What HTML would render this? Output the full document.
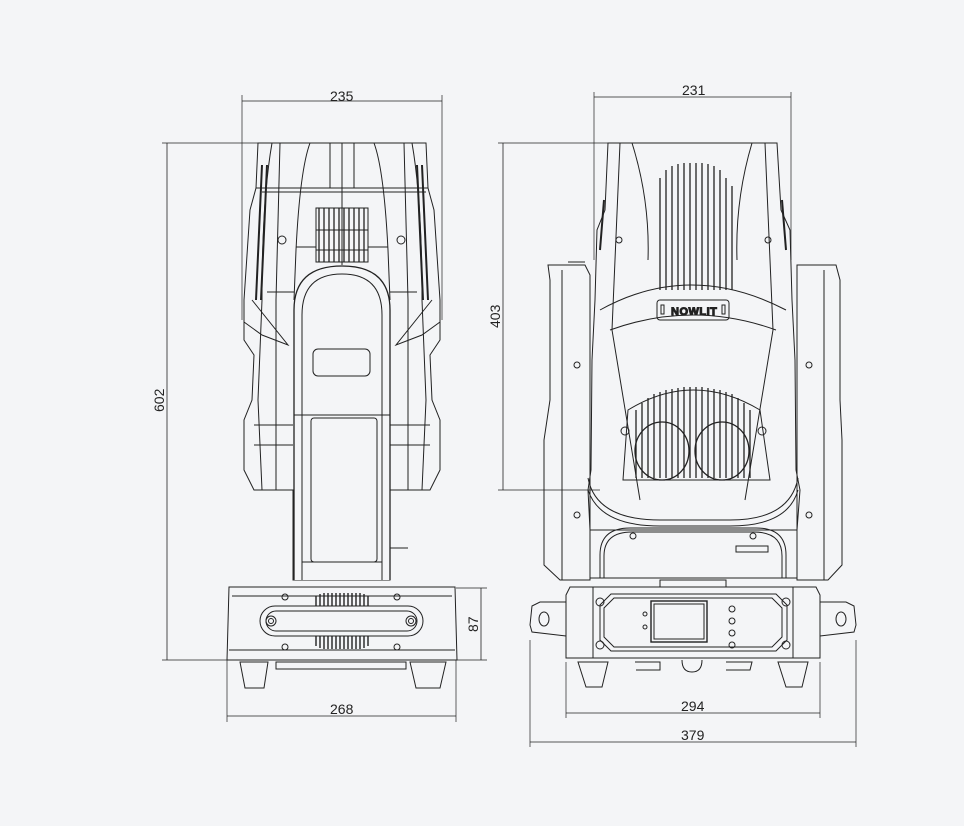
<!DOCTYPE html>
<html><head><meta charset="utf-8"><style>
html,body{margin:0;padding:0;background:#f4f5f7;}
svg{display:block}
text{font-family:"Liberation Sans",sans-serif;font-size:14px;fill:#222}
</style></head><body>
<svg width="964" height="826" viewBox="0 0 964 826" xmlns="http://www.w3.org/2000/svg">
<rect width="964" height="826" fill="#f4f5f7"/>
<g fill="none" stroke="#222" stroke-width="1">
<!-- ===== dimensions left ===== -->
<line x1="242" y1="101" x2="442" y2="101" stroke-width="0.8"/>
<line x1="242" y1="95" x2="242" y2="320" stroke-width="0.7"/>
<line x1="442" y1="95" x2="442" y2="320" stroke-width="0.7"/>
<line x1="167" y1="143" x2="167" y2="660" stroke-width="0.8"/>
<line x1="162" y1="143" x2="330" y2="143" stroke-width="0.7"/>
<line x1="162" y1="660" x2="232" y2="660" stroke-width="0.7"/>
<line x1="481" y1="588" x2="481" y2="660" stroke-width="0.8"/>
<line x1="456" y1="588" x2="487" y2="588" stroke-width="0.7"/>
<line x1="456" y1="660" x2="487" y2="660" stroke-width="0.7"/>
<line x1="227" y1="716" x2="456" y2="716" stroke-width="0.8"/>
<line x1="227" y1="660" x2="227" y2="722" stroke-width="0.7"/>
<line x1="456" y1="660" x2="456" y2="722" stroke-width="0.7"/>
<!-- ===== dimensions right ===== -->
<line x1="594" y1="97" x2="791" y2="97" stroke-width="0.8"/>
<line x1="594" y1="92" x2="594" y2="260" stroke-width="0.7"/>
<line x1="791" y1="92" x2="791" y2="260" stroke-width="0.7"/>
<line x1="503" y1="143" x2="503" y2="490" stroke-width="0.8"/>
<line x1="498" y1="143" x2="640" y2="143" stroke-width="0.7"/>
<line x1="498" y1="490" x2="600" y2="490" stroke-width="0.7"/>
<line x1="566" y1="713" x2="820" y2="713" stroke-width="0.8"/>
<line x1="566" y1="662" x2="566" y2="718" stroke-width="0.7"/>
<line x1="820" y1="662" x2="820" y2="718" stroke-width="0.7"/>
<line x1="530" y1="742" x2="856" y2="742" stroke-width="0.8"/>
<line x1="530" y1="640" x2="530" y2="747" stroke-width="0.7"/>
<line x1="856" y1="640" x2="856" y2="747" stroke-width="0.7"/>

<!-- ===== LEFT VIEW head ===== -->
<path d="M258 143 L426 143 L428 188 L434 210 L440 300 L440 340 L430 355 L432 400 L440 420 L440 470 L430 490 L390 490 L390 580 L293 580 L293 490 L254 490 L244 470 L244 420 L252 400 L254 355 L244 340 L244 300 L250 210 L256 188 Z"/>
<line x1="256" y1="188" x2="428" y2="188"/>
<line x1="262" y1="192" x2="426" y2="192"/>
<path d="M310 143 Q300 170 296 250 L294 300"/>
<path d="M374 143 Q384 170 388 250 L390 300"/>
<path d="M272 143 Q262 200 262 300 L258 400 L262 490"/>
<path d="M412 143 Q422 200 422 300 L426 400 L422 490"/>
<path d="M280 143 L276 300 L276 490"/>
<path d="M404 143 L408 300 L408 490"/>
<line x1="330" y1="143" x2="330" y2="188"/><line x1="354" y1="143" x2="354" y2="188"/><line x1="342" y1="143" x2="342" y2="265"/>
<path d="M262 165 L256 300 M267 165 L261 300 M422 165 L428 300 M417 165 L423 300" stroke-width="2"/>
<line x1="296" y1="247" x2="316" y2="247"/><line x1="368" y1="247" x2="388" y2="247"/>
<line x1="267" y1="292" x2="294" y2="292"/><line x1="390" y1="292" x2="417" y2="292"/>
<path d="M252 300 L288 345 L262 335 L244 322"/><path d="M432 300 L396 345 L422 335 L440 322"/>
<line x1="254" y1="425" x2="293" y2="425"/><line x1="390" y1="425" x2="430" y2="425"/>
<line x1="254" y1="445" x2="293" y2="445"/><line x1="390" y1="445" x2="430" y2="445"/>
<ellipse cx="282" cy="240" rx="4" ry="4"/><ellipse cx="401" cy="240" rx="4" ry="4"/>
<rect x="316" y="208" width="52" height="54"/>
<g stroke-width="1.3">
<line x1="319" y1="208" x2="319" y2="262"/><line x1="324" y1="208" x2="324" y2="262"/><line x1="329" y1="208" x2="329" y2="262"/><line x1="334" y1="208" x2="334" y2="262"/><line x1="339" y1="208" x2="339" y2="262"/><line x1="344" y1="208" x2="344" y2="262"/><line x1="349" y1="208" x2="349" y2="262"/><line x1="354" y1="208" x2="354" y2="262"/><line x1="359" y1="208" x2="359" y2="262"/><line x1="364" y1="208" x2="364" y2="262"/>
</g>
<line x1="316" y1="230" x2="368" y2="230"/><line x1="316" y1="250" x2="368" y2="250"/>
<!-- yoke arm -->
<path d="M294 580 L294 310 Q294 266 342 266 Q390 266 390 310 L390 580" fill="#f4f5f7" stroke-width="1.3"/>
<path d="M302 580 L302 315 Q302 274 342 274 Q382 274 382 315 L382 580"/>
<rect x="313" y="349" width="57" height="27" rx="5"/>
<line x1="294" y1="415" x2="390" y2="415"/>
<rect x="311" y="418" width="66" height="144" rx="3"/>
<line x1="302" y1="562" x2="382" y2="562"/>
<path d="M390 548 L408 548"/>
<!-- base left -->
<path d="M229 587 L455 587 L457 660 L227 660 Z" fill="#f4f5f7"/>
<line x1="232" y1="596" x2="452" y2="596"/><line x1="229" y1="650" x2="455" y2="650"/>
<rect x="260" y="606" width="163" height="30" rx="15"/>
<rect x="266" y="611" width="151" height="20" rx="10"/>
<circle cx="271" cy="621" r="5"/><circle cx="271" cy="621" r="2.5"/>
<circle cx="411" cy="621" r="5"/><circle cx="411" cy="621" r="2.5"/>
<circle cx="285" cy="597" r="3"/><circle cx="397" cy="597" r="3"/><circle cx="285" cy="647" r="3"/><circle cx="397" cy="647" r="3"/>
<g stroke-width="1.4">
<path d="M316 606 V596 M320 606 V594 M324 606 V593 M328 606 V593 M332 606 V593 M336 606 V593 M340 606 V593 M344 606 V593 M348 606 V593 M352 606 V593 M356 606 V593 M360 606 V593 M364 606 V594 M368 606 V596"/>
<path d="M316 636 V646 M320 636 V648 M324 636 V649 M328 636 V649 M332 636 V649 M336 636 V649 M340 636 V649 M344 636 V649 M348 636 V649 M352 636 V649 M356 636 V649 M360 636 V649 M364 636 V648 M368 636 V646"/>
</g>
<path d="M240 662 L268 662 L264 688 L245 688 Z"/><path d="M410 662 L446 662 L440 688 L416 688 Z"/>
<rect x="276" y="662" width="130" height="7"/>

<!-- ===== RIGHT VIEW arms ===== -->
<path d="M548 265 L585 265 L590 275 L590 580 L560 580 L544 565 L544 440 L550 400 L550 280 Z"/>
<path d="M797 265 L836 265 L840 280 L840 400 L842 440 L842 565 L828 580 L797 580 Z"/>
<line x1="562" y1="270" x2="562" y2="580"/><line x1="824" y1="270" x2="824" y2="580"/>
<circle cx="577" cy="365" r="3"/><circle cx="577" cy="515" r="3"/><circle cx="809" cy="365" r="3"/><circle cx="809" cy="515" r="3"/>
<line x1="568" y1="262" x2="585" y2="262"/>
<!-- head right -->
<path d="M608 143 L777 143 L781 210 L790 230 L792 300 L795 360 L796 470 L800 490 L797 530 L590 530 L588 490 L591 470 L592 360 L595 300 L597 230 L605 210 Z"/>
<path d="M632 143 Q650 200 648 260 M752 143 Q735 200 737 260"/>
<path d="M620 143 L612 330 Q625 410 640 500 M765 143 L773 330 Q760 410 745 500"/>
<path d="M600 310 Q690 260 786 310"/>
<path d="M610 330 Q693 300 776 330"/>
<rect x="657" y="300" width="72" height="20" rx="3"/>
<text x="671" y="315" style="font-size:11px;font-weight:bold;letter-spacing:0.5px">NOWLIT</text>
<rect x="661" y="305" width="3" height="9"/><rect x="722" y="305" width="3" height="9"/>
<g stroke-width="1.3">
<path d="M660 290 V178 M666 290 V170 M672 290 V166 M678 290 V164 M684 290 V163 M690 290 V163 M696 290 V163 M702 290 V163 M708 290 V164 M714 290 V166 M720 290 V170 M726 290 V178 M732 290 V186"/>
</g>
<circle cx="619" cy="240" r="3"/><circle cx="768" cy="240" r="3"/>
<path d="M604 200 L600 250 M782 200 L786 250" stroke-width="2"/>
<!-- lower fins + fans -->
<path d="M628 410 Q693 370 760 410 L770 480 L623 480 Z"/>
<g stroke-width="1.3">
<path d="M636 478 V410 M642 478 V403 M648 478 V398 M654 478 V394 M660 478 V392 M666 478 V390 M672 478 V389 M678 478 V388 M684 478 V387 M690 478 V387 M696 478 V387 M702 478 V387 M708 478 V388 M714 478 V389 M720 478 V390 M726 478 V392 M732 478 V394 M738 478 V398 M744 478 V403 M750 478 V410"/>
</g>
<ellipse cx="662" cy="451" rx="27" ry="29" stroke-width="1.3"/>
<ellipse cx="722" cy="451" rx="27" ry="29" stroke-width="1.3"/>
<circle cx="625" cy="431" r="4"/><circle cx="762" cy="431" r="4"/>
<path d="M588 478 Q596 520 660 520 L730 520 Q790 520 798 478"/>
<path d="M588 490 Q600 526 660 526 L730 526 Q788 526 798 490"/>
<path d="M600 578 L600 555 Q600 528 630 528 L756 528 Q786 528 786 555 L786 578"/>
<path d="M604 578 L604 556 Q604 532 632 532 L754 532 Q782 532 782 556 L782 578"/>
<circle cx="633" cy="536" r="3"/><circle cx="753" cy="536" r="3"/>
<rect x="736" y="546" width="32" height="6"/>
<line x1="590" y1="578" x2="797" y2="578"/>
<!-- base right -->
<rect x="660" y="580" width="66" height="7"/>
<path d="M570 587 L816 587 L820 595 L820 658 L566 658 L566 595 Z"/>
<line x1="593" y1="587" x2="593" y2="658"/><line x1="793" y1="587" x2="793" y2="658"/>
<path d="M611 594 L776 594 L787 605 L787 640 L776 651 L611 651 L600 640 L600 605 Z"/>
<path d="M614 598 L772 598 L782 608 L782 637 L772 647 L614 647 L604 637 L604 608 Z"/>
<rect x="651" y="601" width="56" height="41" stroke-width="1.4"/><rect x="654" y="604" width="50" height="35"/>
<circle cx="600" cy="602" r="4"/><circle cx="786" cy="602" r="4"/><circle cx="600" cy="645" r="4"/><circle cx="786" cy="645" r="4"/>
<circle cx="645" cy="614" r="2"/><circle cx="645" cy="627" r="2"/>
<circle cx="732" cy="609" r="3"/><circle cx="732" cy="621" r="3"/><circle cx="732" cy="633" r="3"/><circle cx="732" cy="645" r="3"/>
<path d="M566 602 L540 602 L532 606 L530 625 L532 632 L566 636"/>
<ellipse cx="544" cy="619" rx="5" ry="7"/>
<path d="M820 602 L846 602 L854 606 L856 625 L854 632 L820 636"/>
<ellipse cx="841" cy="619" rx="5" ry="7"/>
<path d="M578 662 L608 662 L602 687 L586 687 Z"/><path d="M778 662 L808 662 L802 687 L786 687 Z"/>
<path d="M635 662 L660 662 L660 670 L636 670"/><path d="M726 662 L752 662 L750 670 L726 670"/>
<path d="M682 660 Q682 672 692 672 Q702 672 702 660"/>
</g>
<!-- labels -->
<text x="330" y="101" style="font-size:14px">235</text>
<text x="682" y="95" style="font-size:14px">231</text>
<text x="330" y="714">268</text>
<text x="681" y="711">294</text>
<text x="681" y="740">379</text>
<text transform="translate(164,412) rotate(-90)">602</text>
<text transform="translate(500,328) rotate(-90)">403</text>
<text transform="translate(478,632) rotate(-90)">87</text>
</svg>
</body></html>
